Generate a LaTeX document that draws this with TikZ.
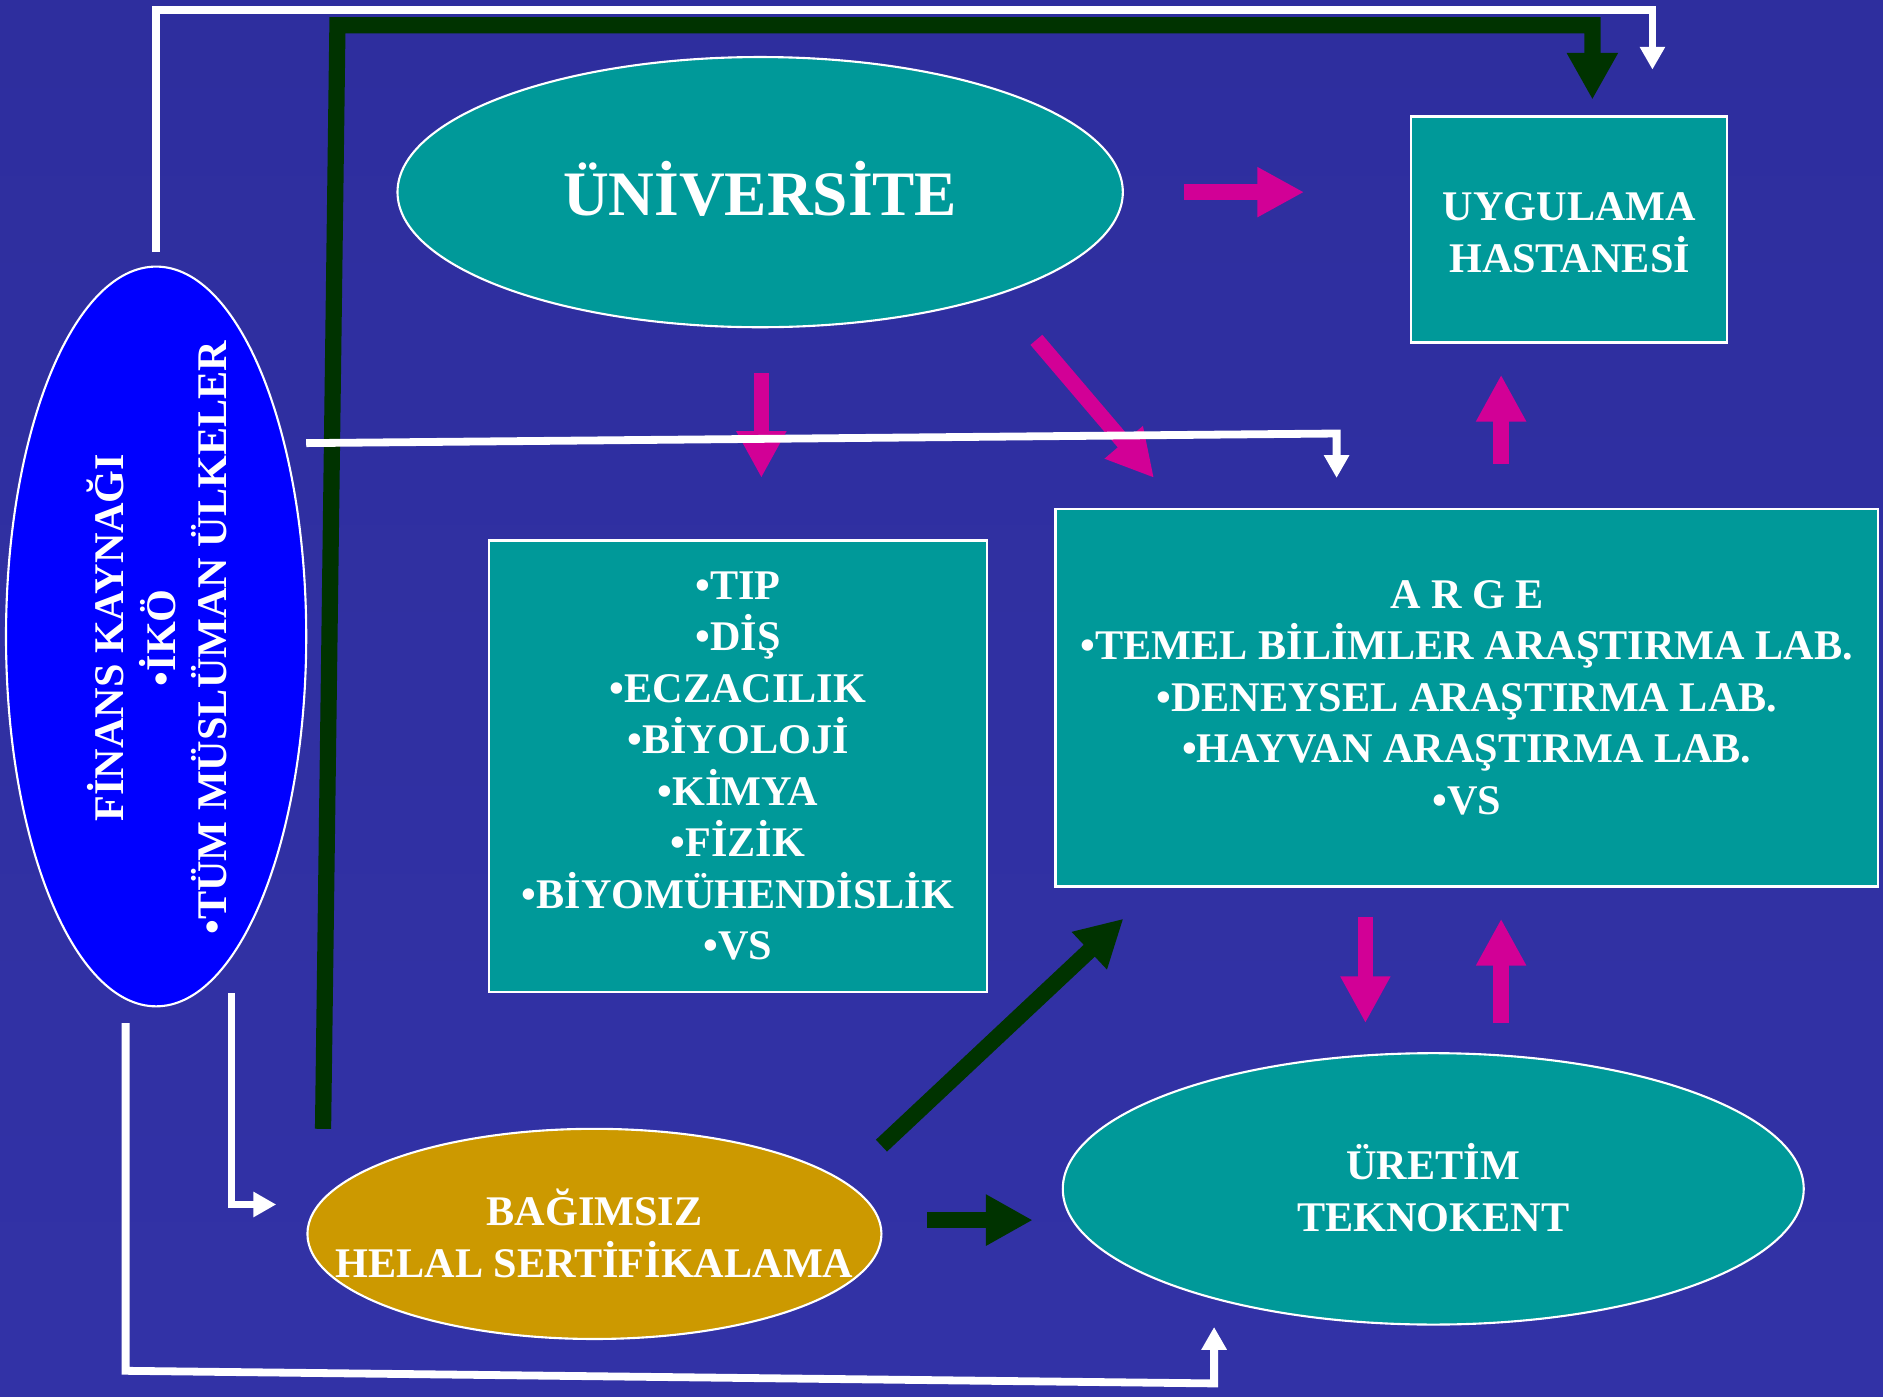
\documentclass[tikz,border=0pt]{standalone}
\usepackage{fontspec}
\setmainfont{Liberation Serif}
\usepackage{tikz}
\usetikzlibrary{shapes.geometric, arrows.meta}
\definecolor{bgtop}{RGB}{46,46,158}
\definecolor{bgmid}{RGB}{72,72,184}
\definecolor{bgbot}{RGB}{50,50,166}
\definecolor{tealfill}{RGB}{0,153,153}
\definecolor{finblue}{RGB}{0,0,255}
\definecolor{halalgold}{RGB}{204,153,0}
\definecolor{pinkarrow}{RGB}{210,0,150}
\definecolor{darkarrow}{RGB}{0,51,0}
\tikzset{base/.style={font=\bfseries\fontsize{10}{12.2}\selectfont, text=white, align=center}}
\tikzset{oval/.style={ellipse, draw=white, line width=0.5pt, inner sep=0pt}}
\tikzset{box/.style={rectangle, draw=white, line width=0.6pt, fill=tealfill, inner sep=0pt, base}}
\tikzstyle{pinkhead} = [draw=pinkarrow, line width=1.3mm, -{Triangle[width=3.9mm,length=3.9mm]}]
\tikzstyle{darkhead} = [draw=darkarrow, line width=1.35mm, -{Triangle[width=4mm,length=3.9mm]}]
\tikzstyle{whitehead} = [draw=white, line width=0.65mm, -{Triangle[width=2mm,length=1.9mm]}]

\begin{document}
\begin{tikzpicture}[x=0.1mm, y=-0.1mm]
\useasboundingbox (0,0) rectangle (1568,1163);
\shade[top color=bgtop, middle color=bgmid, bottom color=bgbot] (0,0) rectangle (1568,1163);

\node[oval, fill=tealfill, minimum width=60.4mm, minimum height=22.5mm] (uni) at (633,160) {};
\node[base, font=\bfseries\fontsize{15}{18}\selectfont] (uniT) at (633,157) {ÜNİVERSİTE};
\node[box, minimum width=26.3mm, minimum height=18.8mm] (hosp) at (1306.5,191) {};
\node[base] (hospT) at (1307,194) {UYGULAMA\\HASTANESİ};
\node[oval, fill=finblue, minimum width=25mm, minimum height=61.6mm] (fin) at (130,530) {};
\node[base, rotate=90] (finT) at (131,531) {FİNANS KAYNAĞI\\•İKÖ\\•TÜM MÜSLÜMAN ÜLKELER};
\node[box, minimum width=41.5mm, minimum height=37.6mm] (dept) at (614.5,638)
  {•TIP\\•DİŞ\\•ECZACILIK\\•BİYOLOJİ\\•KİMYA\\•FİZİK\\•BİYOMÜHENDİSLİK\\•VS};
\node[box, minimum width=68.5mm, minimum height=31.4mm] (arge) at (1221.5,581)
  {A R G E\\•TEMEL BİLİMLER ARAŞTIRMA LAB.\\•DENEYSEL ARAŞTIRMA LAB.\\•HAYVAN ARAŞTIRMA LAB.\\•VS};
\node[oval, fill=tealfill, minimum width=61.7mm, minimum height=22.6mm] (prod) at (1193.5,990) {};
\node[base] (prodT) at (1193.5,989) {ÜRETİM\\TEKNOKENT};
\node[oval, fill=halalgold, minimum width=47.8mm, minimum height=17.5mm] (halal) at (495,1027.5) {};
\node[base] (halalT) at (495,1027) {BAĞIMSIZ\\HELAL SERTİFİKALAMA};

\coordinate (uniR) at (986,160);
\coordinate (hospL) at (1086,160);
\coordinate (uniB) at (634,311);
\coordinate (deptT) at (634,398);
\coordinate (uniBR) at (863,283);
\coordinate (argeTL) at (961,398);
\coordinate (argeTR) at (1250,386);
\coordinate (hospB) at (1250,312);
\coordinate (argeB) at (1137,764);
\coordinate (prodT1) at (1137,852);
\coordinate (prodT2) at (1250,852);
\coordinate (argeB2) at (1250,765);
\draw[pinkhead] (uniR) -- (hospL);
\draw[pinkhead] (uniB) -- (deptT);
\draw[pinkhead] (uniBR) -- (argeTL);
\draw[pinkhead] (argeTR) -- (hospB);
\draw[pinkhead] (argeB) -- (prodT1);
\draw[pinkhead] (prodT2) -- (argeB2);

\coordinate (halalTL) at (269,940);
\coordinate (topL) at (281,21);
\coordinate (topR) at (1326,21);
\coordinate (hospT) at (1326,83);
\coordinate (halalTR) at (734,954);
\coordinate (argeBL) at (935.5,765);
\coordinate (halalR) at (772,1016);
\coordinate (prodL) at (860,1016);
\draw[darkhead] (halalTL) -- (topL) -- (topR) -- (hospT);
\draw[darkhead] (halalTR) -- (argeBL);
\draw[darkhead] (halalR) -- (prodL);

\coordinate (finT1) at (130,210);
\coordinate (edgeL) at (130,8.6);
\coordinate (edgeR) at (1376,8.6);
\coordinate (hospTR) at (1376,58);
\coordinate (finR) at (255,369);
\coordinate (midR) at (1113,361);
\coordinate (argeT) at (1113,398);
\coordinate (finB1) at (192.7,827);
\coordinate (finB2) at (192.7,1003);
\coordinate (halalL) at (230,1003);
\coordinate (finB3) at (104.6,852);
\coordinate (lowL) at (104.6,1141.5);
\coordinate (lowR) at (1011,1152);
\coordinate (prodB) at (1011,1105);
\draw[whitehead] (finT1) -- (edgeL) -- (edgeR) -- (hospTR);
\draw[whitehead] (finR) -- (midR) -- (argeT);
\draw[whitehead] (finB1) -- (finB2) -- (halalL);
\draw[whitehead] (finB3) -- (lowL) -- (lowR) -- (prodB);
\end{tikzpicture}
\end{document}
